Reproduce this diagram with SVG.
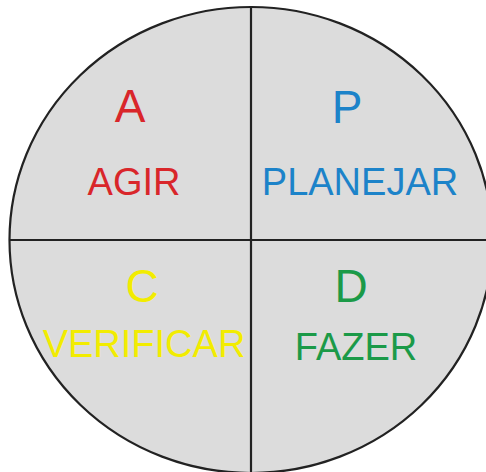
<svg xmlns="http://www.w3.org/2000/svg" width="486" height="472" viewBox="0 0 486 472">
<style>
.t{font-family:"Liberation Sans",Arial,sans-serif;text-anchor:middle}
.big{font-size:46px}
.word{font-size:38px}
.ln{stroke:#222;stroke-width:2.2;fill:none}
</style>
<rect width="486" height="472" fill="#fff"/>
<g id="circle">
<ellipse cx="251" cy="240" rx="241.5" ry="233" fill="#dcdcdc" stroke="#222" stroke-width="2.2"/>
</g>
<g id="connectors">
<line class="ln" x1="251" y1="7" x2="251" y2="473"/>
<line class="ln" x1="10" y1="240" x2="492" y2="240"/>
</g>
<g id="node-A">
<text class="t big" x="130" y="122" fill="#d9262a">A</text>
<text class="t word" x="134" y="195" fill="#d9262a">AGIR</text>
</g>
<g id="node-P">
<text class="t big" x="347" y="123" fill="#1c83c9">P</text>
<text class="t word" x="360" y="195" fill="#1c83c9">PLANEJAR</text>
</g>
<g id="node-C">
<text class="t big" x="142" y="302" fill="#f2ec00">C</text>
<text class="t word" x="144" y="357" fill="#f2ec00">VERIFICAR</text>
</g>
<g id="node-D">
<text class="t big" x="351" y="302" fill="#1b9a48">D</text>
<text class="t word" x="356" y="360" fill="#1b9a48">FAZER</text>
</g>
</svg>
